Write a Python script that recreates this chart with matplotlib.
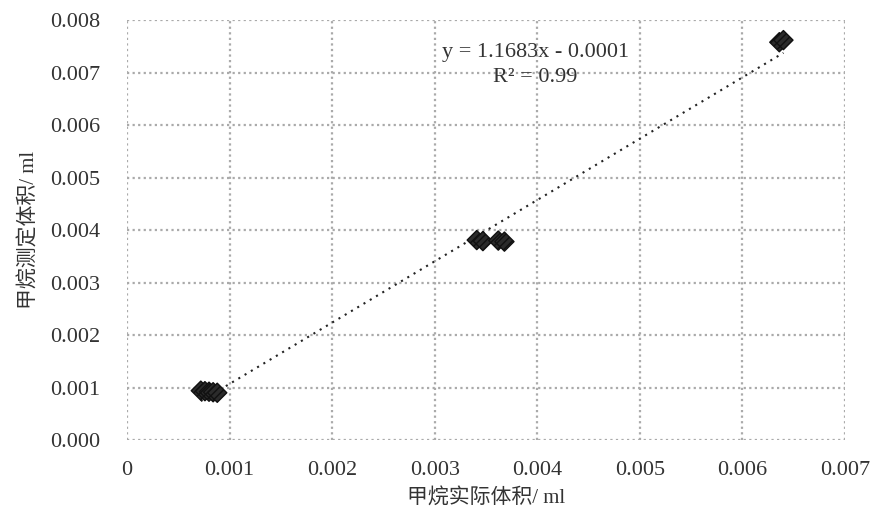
import matplotlib
matplotlib.use("Agg")
import matplotlib.pyplot as plt
import numpy as np

plt.rcParams['font.family'] = ['Liberation Serif', 'Noto Sans CJK SC', 'DejaVu Sans']

# measured points (actual volume, measured volume), ml
actual_ml = [0.00072, 0.00076, 0.00080, 0.00084, 0.00088,
             0.00341, 0.00347, 0.00362, 0.00368,
             0.00636, 0.00640]
measured_ml = [0.00094, 0.00093, 0.00092, 0.00091, 0.00090,
               0.00381, 0.00379, 0.00380, 0.00378,
               0.00758, 0.00762]

# trendline shown on the chart
slope = 1.1683
intercept = -0.0001
eq_text = "y = 1.1683x - 0.0001"
r2_text = "R² = 0.99"

x_ticks = [0, 0.001, 0.002, 0.003, 0.004, 0.005, 0.006, 0.007]
x_tick_labels = ["0", "0.001", "0.002", "0.003", "0.004", "0.005", "0.006", "0.007"]
y_ticks = [0, 0.001, 0.002, 0.003, 0.004, 0.005, 0.006, 0.007, 0.008]
y_tick_labels = ["0.000", "0.001", "0.002", "0.003", "0.004", "0.005", "0.006", "0.007", "0.008"]

fig = plt.figure(figsize=(8.72, 5.31), dpi=100)
ax = fig.add_axes([0.1456, 0.1714, 0.8234, 0.7906])

# trendline over data range
xs = np.array([min(actual_ml), max(actual_ml)])
ax.plot(xs, slope * xs + intercept, linestyle=(0, (1, 2.5)), color="#222222", lw=1.5, zorder=2)

ax.scatter(actual_ml, measured_ml, marker="D", s=95, color="#2b2b2b",
           edgecolors="#111111", hatch="/////", zorder=3)

ax.set_xlim(0, 0.007)
ax.set_ylim(0, 0.008)
ax.set_xticks(x_ticks)
ax.set_xticklabels(x_tick_labels)
ax.set_yticks(y_ticks)
ax.set_yticklabels(y_tick_labels)
ax.tick_params(length=0, labelsize=16, colors="#333333")
ax.tick_params(axis="y", pad=19)
ax.tick_params(axis="x", pad=15)

ax.grid(True, linestyle=(0, (1, 1.5)), color="#aaaaaa", lw=1.6)
for side in ["top", "right", "left", "bottom"]:
    ax.spines[side].set_visible(False)
ax.set_axisbelow(True)

ax.text(0.00398, 0.00739, eq_text, ha="center", va="center", fontsize=16, color="#333333")
ax.text(0.00398, 0.00691, r2_text, ha="center", va="center", fontsize=16, color="#333333")

ax.set_xlabel("甲烷实际体积/ ml", fontsize=15, color="#333333", labelpad=6)
ax.set_ylabel("甲烷测定体积/ ml", fontsize=15, color="#333333", labelpad=8)

fig.savefig("out.png", dpi=100)
